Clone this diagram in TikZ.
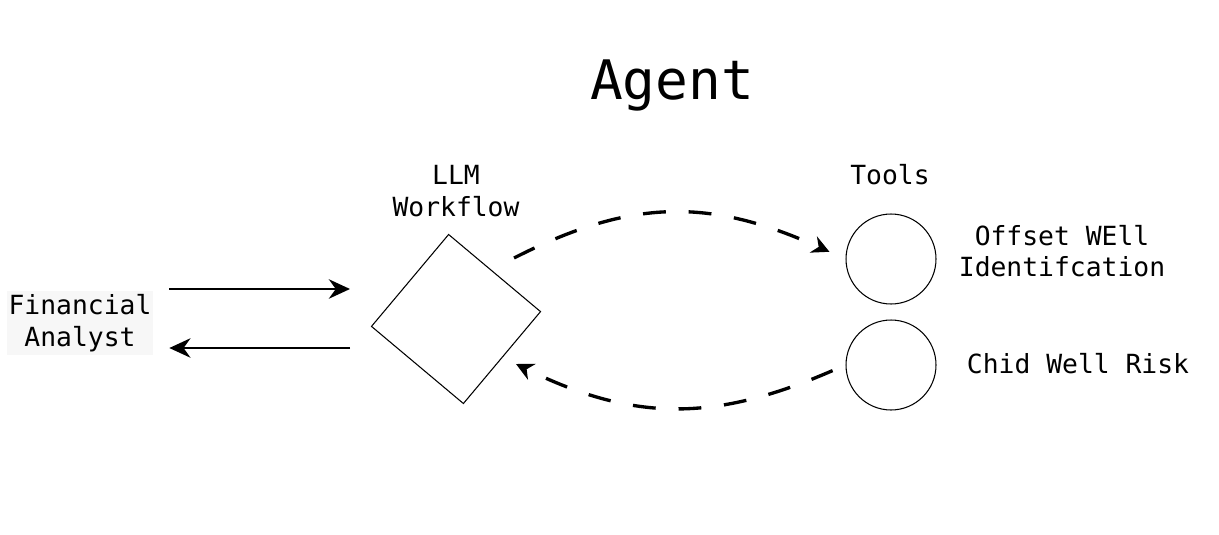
\documentclass[tikz,border=0pt]{standalone}
\usepackage{fontspec}
\setmonofont{DejaVu Sans Mono}
\usetikzlibrary{arrows.meta}

\begin{document}
\begin{tikzpicture}[x=0.02cm,y=-0.02cm,
	lbl/.style={font=\ttfamily\fontsize{15}{18}\selectfont,align=center},
	tool/.style={draw,circle,line width=0.6pt,minimum size=1.8cm,inner sep=0pt},
	io/.style={line width=1.7pt,-{Stealth[length=12pt,width=11pt]}},
	call/.style={line width=1.9pt,dash pattern=on 13pt off 13pt,-{Stealth[length=10pt,width=10pt]}}]
	\useasboundingbox (0,0) rectangle (1219,534);
	\node[font=\ttfamily\fontsize{31}{36}\selectfont] (agent) at (672,85) {Agent};
	\node[lbl,fill=black!3,inner xsep=1pt,inner ysep=2pt] (fa) at (80,323) {Financial\\Analyst};
	\node[draw,line width=0.6pt,minimum size=2.4cm,rotate=50] (wf) at (456,319) {};
	\node[lbl] (wflbl) at (456,191) {LLM\\Workflow};
	\node[lbl] (tools) at (890,175) {Tools};
	\foreach \n/\y in {off/259,risk/365} \node[tool] (\n) at (891,\y) {};
	\node[lbl] (offlbl) at (1062,251) {Offset WEll\\Identifcation};
	\node[lbl] (risklbl) at (1078,364) {Chid Well Risk};
	\path
	(350,289) coordinate (in)
	(350,348) coordinate (out)
	(514,258) coordinate (ask)
	(516,364) coordinate (reply);
	\draw[io,shorten <=9pt] (fa.east |- in) -- (in);
	\draw[io,shorten >=9pt] (out) -- (fa.east |- out);
	\draw[call,shorten >=10pt] (ask) .. controls (632,198) and (710,198) .. (off.west);
	\draw[call,shorten <=8pt] (risk.west) .. controls (714,422) and (634,422) .. (reply);
\end{tikzpicture}
\end{document}
